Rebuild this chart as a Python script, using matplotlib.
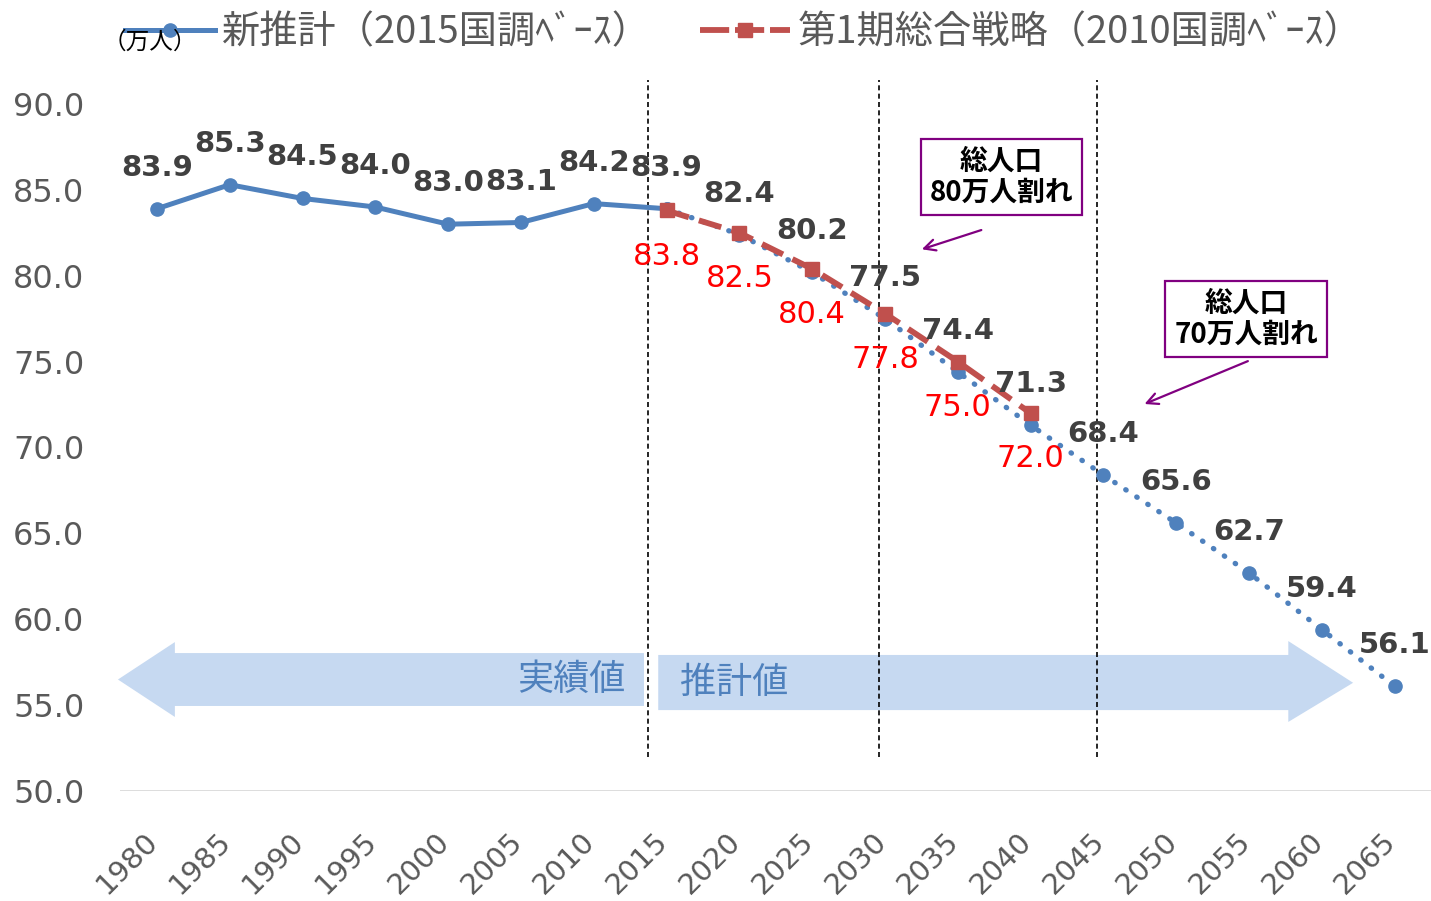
import matplotlib
matplotlib.use("Agg")
import matplotlib.pyplot as plt
from matplotlib.patches import Polygon
from matplotlib.lines import Line2D
import matplotlib.transforms as mtransforms

# ---------------- data ----------------
years = ["1980", "1985", "1990", "1995", "2000", "2005", "2010", "2015", "2020",
         "2025", "2030", "2035", "2040", "2045", "2050", "2055", "2060", "2065"]
new_est = [83.9, 85.3, 84.5, 84.0, 83.0, 83.1, 84.2, 83.9, 82.4,
           80.2, 77.5, 74.4, 71.3, 68.4, 65.6, 62.7, 59.4, 56.1]
actual_count = 8   # 1980-2015 are actual values (solid)
old_years = ["2015", "2020", "2025", "2030", "2035", "2040"]
old_est = [83.8, 82.5, 80.4, 77.8, 75.0, 72.0]

label_new = "新推計（2015国調ﾍﾞｰｽ）"
label_old = "第1期総合戦略（2010国調ﾍﾞｰｽ）"
y_ticks = [50, 55, 60, 65, 70, 75, 80, 85, 90]

JP = ["Noto Sans CJK JP", "DejaVu Sans"]
BLUE = "#4F81BD"
RED = "#C0504D"
GRAY = "#595959"
PURPLE = "#800080"
ARROW = "#C6D9F1"

fig = plt.figure(figsize=(14.31, 9.01), dpi=100)
ax = fig.add_axes([0.0842, 0.1221, 0.9158, 0.7625])

xi = list(range(len(years)))
ax.set_xlim(-0.5, len(years) - 0.5)
ax.set_ylim(50, 90)

# big background arrows (actual / estimated)
left_arrow = Polygon([(-0.535, 56.49), (0.247, 58.67), (0.247, 58.03), (6.69, 58.03),
                      (6.69, 54.95), (0.247, 54.95), (0.247, 54.31)],
                     closed=True, facecolor=ARROW, edgecolor="none", zorder=1, clip_on=False)
right_arrow = Polygon([(6.886, 57.92), (15.54, 57.92), (15.54, 58.73), (16.43, 56.3),
                       (15.54, 54.02), (15.54, 54.71), (6.886, 54.71)],
                      closed=True, facecolor=ARROW, edgecolor="none", zorder=1, clip_on=False)
ax.add_patch(left_arrow)
ax.add_patch(right_arrow)
ax.text(5.69, 56.46, "実績値", fontsize=26, color=BLUE, family=JP, ha="center", va="center", zorder=2)
ax.text(7.93, 56.3, "推計値", fontsize=26, color=BLUE, family=JP, ha="center", va="center", zorder=2)

# vertical dashed separators
for xv in [6.75, 9.92, 12.91]:
    ax.plot([xv, xv], [51.98, 91.4], color="black", lw=1.2, ls=(0, (3, 2)),
            zorder=3, clip_on=False)

# new estimate: solid part (actual) and dotted part (estimate)
ax.plot(xi[:actual_count], new_est[:actual_count], color=BLUE, lw=3.6,
        marker="o", markersize=9.5, zorder=4, solid_capstyle="round")
ax.plot(xi[actual_count - 1:], new_est[actual_count - 1:], color=BLUE, lw=3.8,
        ls=(0, (0.1, 2.4)), dash_capstyle="round", marker="o", markersize=9.5, zorder=4)

# old strategy
old_x = [years.index(y) for y in old_years]
ax.plot(old_x, old_est, color=RED, lw=4.2, ls=(0, (4, 1.8)), marker="s",
        markersize=9.5, zorder=5)

# data labels
for x, v in zip(xi, new_est):
    ax.annotate(f"{v:.1f}", (x, v), xytext=(0, 29.5), textcoords="offset points",
                ha="center", va="center", fontsize=21, fontweight="bold",
                color="#404040", family="DejaVu Sans", zorder=6)
for x, v in zip(old_x, old_est):
    ax.annotate(f"{v:.1f}", (x, v), xytext=(0, -33), textcoords="offset points",
                ha="center", va="center", fontsize=22, color="#FF0000",
                family="DejaVu Sans", zorder=6)

# callouts
bbox_kw = dict(boxstyle="square,pad=0.32", facecolor="white", edgecolor=PURPLE, lw=1.6)
ax.text(11.6, 85.74, "総人口\n80万人割れ", fontsize=20, fontweight="bold", family=JP,
        ha="center", va="center", linespacing=1.12, bbox=bbox_kw, zorder=7)
ax.text(14.96, 77.47, "総人口\n70万人割れ", fontsize=20, fontweight="bold", family=JP,
        ha="center", va="center", linespacing=1.12, bbox=bbox_kw, zorder=7)
ax.annotate("", xy=(10.47, 81.49), xytext=(11.36, 82.71),
            arrowprops=dict(arrowstyle="->,head_length=0.8,head_width=0.4", color=PURPLE, lw=1.6),
            zorder=7)
ax.annotate("", xy=(13.53, 72.47), xytext=(15.02, 75.09),
            arrowprops=dict(arrowstyle="->,head_length=0.8,head_width=0.4", color=PURPLE, lw=1.6),
            zorder=7)

# axes styling
for s in ax.spines.values():
    s.set_visible(False)
ax.axhline(50, color="#D9D9D9", lw=2, zorder=0)
ax.set_yticks(y_ticks)
ax.set_yticklabels([f"{t:.1f}" for t in y_ticks])
ax.tick_params(axis="y", length=0, pad=26, labelsize=23, labelcolor=GRAY)
ax.set_xticks(xi)
ax.set_xticklabels(years)
ax.tick_params(axis="x", length=0, pad=26, labelsize=21, labelcolor=GRAY)
for lab in ax.get_yticklabels():
    lab.set_family("DejaVu Sans")
offset = mtransforms.ScaledTranslation(7 / 100, 0, fig.dpi_scale_trans)
for lab in ax.get_xticklabels():
    lab.set_rotation(45)
    lab.set_ha("right")
    lab.set_va("top")
    lab.set_family("DejaVu Sans")
    lab.set_transform(lab.get_transform() + offset)

# legend
h_new = Line2D([], [], color=BLUE, lw=3.6, marker="o", markersize=9.5)
h_old = Line2D([], [], color=RED, lw=4.2, ls=(0, (5, 1)), marker="s", markersize=9.5)
leg = fig.legend([h_new, h_old], [label_new, label_old], loc="upper left",
                 bbox_to_anchor=(125 / 1431, 1 - 13 / 901), ncol=2, frameon=False,
                 prop={"family": JP, "size": 27.5}, handlelength=2.35, handletextpad=0.2,
                 columnspacing=1.28, borderpad=0, borderaxespad=0)
for t in leg.get_texts():
    t.set_color(GRAY)

fig.text(103 / 1431, 1 - 42 / 901, "（万人）", fontsize=17, family=JP, ha="left",
         va="center", color="black", zorder=10)

fig.savefig("out.png", dpi=100)
